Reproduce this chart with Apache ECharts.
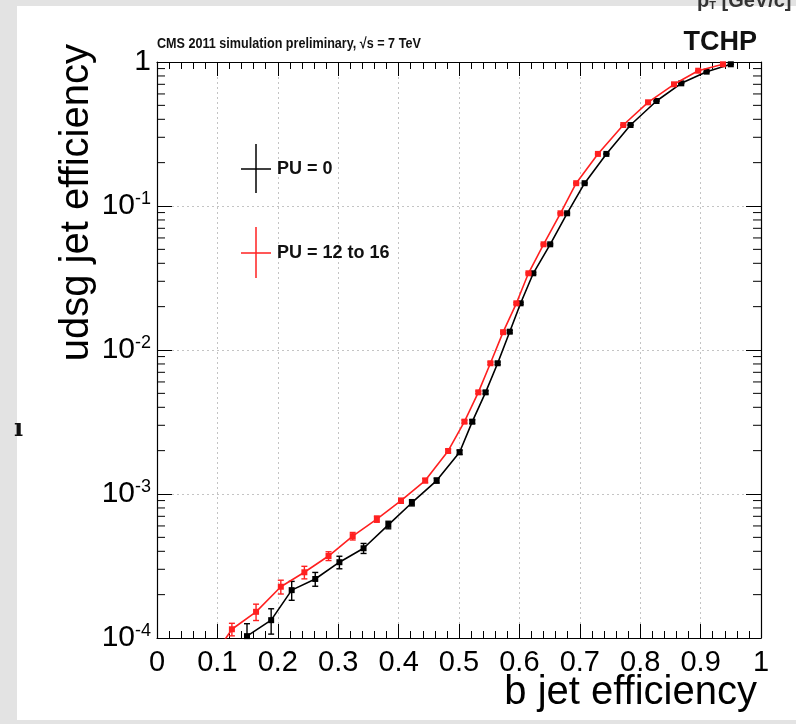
<!DOCTYPE html>
<html>
<head>
<meta charset="utf-8">
<script src="https://cdn.jsdelivr.net/npm/echarts@6/dist/echarts.min.js"></script>
<style>
html,body{margin:0;padding:0;background:#e3e3e3;}
#c{width:796px;height:724px;}
</style>
</head>
<body>
<div id="c"></div>
<script>
// ---- data ----
const xTickValues = [0, 0.1, 0.2, 0.3, 0.4, 0.5, 0.6, 0.7, 0.8, 0.9, 1];
const yDecades = [1e-4, 1e-3, 1e-2, 1e-1, 1];
const yMinorTicks = [2e-4,3e-4,4e-4,5e-4,6e-4,7e-4,8e-4,9e-4,
  2e-3,3e-3,4e-3,5e-3,6e-3,7e-3,8e-3,9e-3,
  2e-2,3e-2,4e-2,5e-2,6e-2,7e-2,8e-2,9e-2,
  0.2,0.3,0.4,0.5,0.6,0.7,0.8,0.9];

// PU = 0
const bEffPU0 = [0.120, 0.149, 0.189, 0.223, 0.262, 0.302, 0.342, 0.383, 0.422, 0.463, 0.501, 0.522, 0.544, 0.564, 0.584, 0.602, 0.623, 0.651, 0.679, 0.708, 0.744, 0.784, 0.827, 0.868, 0.910, 0.950];
const udsgPU0 = [7.0e-5, 1.03e-4, 1.33e-4, 2.15e-4, 2.57e-4, 3.36e-4, 4.2e-4, 6.1e-4, 8.7e-4, 1.24e-3, 1.95e-3, 3.18e-3, 5.08e-3, 8.09e-3, 1.34e-2, 2.11e-2, 3.41e-2, 5.42e-2, 8.9e-2, 0.144, 0.230, 0.365, 0.536, 0.711, 0.857, 0.964];
const errPU0  = [0.25, 0.22, 0.20, 0.15, 0.11, 0.10, 0.08, 0.06, 0.05, 0.04, 0.035, 0.03, 0.025, 0.02, 0.02, 0.015, 0.015, 0.012, 0.01, 0.01, 0.008, 0.006, 0.005, 0.004, 0.003, 0.002];

// PU = 12 to 16
const bEffPU12 = [0.085, 0.124, 0.164, 0.205, 0.244, 0.284, 0.324, 0.364, 0.404, 0.444, 0.482, 0.509, 0.532, 0.552, 0.573, 0.595, 0.615, 0.640, 0.668, 0.694, 0.730, 0.772, 0.813, 0.856, 0.896, 0.937];
const udsgPU12 = [6.6e-5, 1.15e-4, 1.52e-4, 2.27e-4, 2.86e-4, 3.71e-4, 5.1e-4, 6.7e-4, 8.98e-4, 1.24e-3, 1.99e-3, 3.18e-3, 5.08e-3, 8.09e-3, 1.33e-2, 2.11e-2, 3.41e-2, 5.42e-2, 8.9e-2, 0.144, 0.230, 0.365, 0.525, 0.70, 0.87, 0.964];
const errPU12  = [0.20, 0.10, 0.13, 0.11, 0.10, 0.07, 0.06, 0.05, 0.04, 0.035, 0.03, 0.025, 0.02, 0.02, 0.015, 0.015, 0.012, 0.01, 0.01, 0.008, 0.006, 0.005, 0.004, 0.003, 0.002, 0.002];

const seriesNames = ['PU = 0', 'PU = 12 to 16'];
const titleText = 'CMS 2011 simulation preliminary, \u221As = 7 TeV';
const algoText = 'TCHP';
const xTitle = 'b jet efficiency';
const yTitle = 'udsg jet efficiency';

// ---- chart ----
const FONT = '"Liberation Sans", Arial, Helvetica, sans-serif';
const BLACK = '#000000';
const RED = '#ff2020';

function pts(xs, ys) { return xs.map((x, i) => [x, ys[i]]); }
function errData(xs, ys, es) { return xs.map((x, i) => [x, ys[i], es[i]]); }

function errRender(color) {
  return function (params, api) {
    const x = api.value(0), y = api.value(1), e = api.value(2);
    const hi = api.coord([x, y * (1 + e)]);
    const lo = api.coord([x, y * (1 - e)]);
    const cw = 3;
    const st = { stroke: color, lineWidth: 1.4 };
    return {
      type: 'group',
      children: [
        { type: 'line', shape: { x1: hi[0], y1: hi[1], x2: lo[0], y2: lo[1] }, style: st },
        { type: 'line', shape: { x1: hi[0] - cw, y1: hi[1], x2: hi[0] + cw, y2: hi[1] }, style: st },
        { type: 'line', shape: { x1: lo[0] - cw, y1: lo[1], x2: lo[0] + cw, y2: lo[1] }, style: st }
      ]
    };
  };
}

function minorRender(params, api) {
  const v = api.value(0);
  const l = api.coord([0, v]);
  const r = api.coord([1, v]);
  const st = { stroke: '#000', lineWidth: 1 };
  return {
    type: 'group',
    children: [
      { type: 'line', shape: { x1: l[0], y1: l[1], x2: l[0] + 8, y2: l[1] }, style: st },
      { type: 'line', shape: { x1: r[0], y1: r[1], x2: r[0] - 8, y2: r[1] }, style: st }
    ]
  };
}

const chart = echarts.init(document.getElementById('c'), null, { renderer: 'canvas' });

const xAxisBase = {
  type: 'value', min: 0, max: 1, interval: 0.1,
  axisLine: { show: true, onZero: false, lineStyle: { color: '#000', width: 1.2 } },
  axisTick: { show: true, inside: true, length: 14, lineStyle: { color: '#000', width: 1 } },
  minorTick: { show: true, splitNumber: 5, length: 7, lineStyle: { color: '#000', width: 1 } }
};
const yAxisBase = {
  type: 'log', logBase: 10, min: 1e-4, max: 1, splitNumber: 4,
  axisLine: { show: true, onZero: false, lineStyle: { color: '#000', width: 1.2 } },
  axisTick: { show: true, inside: true, length: 15, lineStyle: { color: '#000', width: 1 } },
  minorTick: { show: false }
};

const option = {
  backgroundColor: 'transparent',
  animation: false,
  grid: { left: 157, right: 35, top: 62, bottom: 86, containLabel: false },
  xAxis: [
    Object.assign({}, xAxisBase, {
      position: 'bottom',
      splitLine: { show: true, lineStyle: { color: '#c4c4c4', type: [2, 3], width: 1 } },
      axisLabel: {
        show: true, margin: 10, color: '#000', fontSize: 29, fontFamily: FONT,
        showMinLabel: true, showMaxLabel: true,
        formatter: function (v) {
          const r = Math.round(v * 10) / 10;
          return (r === 0 || r === 1) ? String(r) : r.toFixed(1);
        }
      }
    }),
    Object.assign({}, xAxisBase, {
      position: 'top',
      splitLine: { show: false },
      axisLabel: { show: false }
    })
  ],
  yAxis: [
    Object.assign({}, yAxisBase, {
      position: 'left',
      splitLine: { show: true, lineStyle: { color: '#c4c4c4', type: [2, 3], width: 1 } },
      axisLabel: {
        show: true, margin: 6, color: '#000', fontFamily: FONT,
        showMinLabel: true, showMaxLabel: true,
        formatter: function (v) {
          const e = Math.round(Math.log10(v));
          if (e === 0) return '{n|1}';
          return '{n|10}{s|' + e + '}';
        },
        rich: {
          n: { fontSize: 30, lineHeight: 32, fontFamily: FONT, color: '#000' },
          s: { fontSize: 18, lineHeight: 19, verticalAlign: 'top', fontFamily: FONT, color: '#000' }
        }
      }
    }),
    Object.assign({}, yAxisBase, {
      position: 'right',
      splitLine: { show: false },
      axisLabel: { show: false }
    })
  ],
  series: [
    {
      name: 'minor', type: 'custom', xAxisIndex: 0, yAxisIndex: 0,
      renderItem: minorRender, data: yMinorTicks.map(v => [v]),
      encode: { y: 0 }, silent: true, z: 1
    },
    {
      name: seriesNames[0] + ' err', type: 'custom', xAxisIndex: 0, yAxisIndex: 0,
      renderItem: errRender(BLACK), data: errData(bEffPU0, udsgPU0, errPU0),
      encode: { x: 0, y: 1 }, clip: true, z: 3
    },
    {
      name: seriesNames[0], type: 'line', xAxisIndex: 0, yAxisIndex: 0,
      data: pts(bEffPU0, udsgPU0),
      symbol: 'rect', symbolSize: 6, showSymbol: true,
      lineStyle: { color: BLACK, width: 1.6 }, itemStyle: { color: BLACK },
      clip: true, z: 4
    },
    {
      name: seriesNames[1] + ' err', type: 'custom', xAxisIndex: 0, yAxisIndex: 0,
      renderItem: errRender(RED), data: errData(bEffPU12, udsgPU12, errPU12),
      encode: { x: 0, y: 1 }, clip: true, z: 5
    },
    {
      name: seriesNames[1], type: 'line', xAxisIndex: 0, yAxisIndex: 0,
      data: pts(bEffPU12, udsgPU12),
      symbol: 'rect', symbolSize: 6, showSymbol: true,
      lineStyle: { color: RED, width: 1.6 }, itemStyle: { color: RED },
      clip: true, z: 6
    }
  ],
  graphic: [
    { type: 'rect', z: -10, silent: true, shape: { x: 17, y: 6, width: 779, height: 714 }, style: { fill: '#ffffff' } },
    { type: 'text', z: 10, x: 697, y: -9, style: { rich: { a: { fontSize: 20, fontWeight: 'bold', fontFamily: FONT, fill: '#333' }, b: { fontSize: 11, fontWeight: 'bold', fontFamily: FONT, fill: '#333', verticalAlign: 'bottom', lineHeight: 12 } }, text: '{a|p}{b|T}{a| [GeV/c]}' } },
    { type: 'text', z: 10, x: 14, y: 430, style: { text: '\u0131', font: 'bold 24px "DejaVu Serif", serif', fill: '#111', verticalAlign: 'middle' } },
    { type: 'text', z: 10, x: 157, y: 44, scaleX: 0.84, style: { text: titleText, font: 'bold 15px ' + FONT, fill: '#111', verticalAlign: 'middle', align: 'left' } },
    { type: 'text', z: 10, x: 757, y: 43, style: { text: algoText, font: 'bold 27px ' + FONT, fill: '#111', verticalAlign: 'middle', align: 'right' } },
    { type: 'text', z: 10, x: 757, y: 693, style: { text: xTitle, font: '40px ' + FONT, fill: '#000', verticalAlign: 'middle', align: 'right' } },
    { type: 'text', z: 10, x: 77, y: 44, rotation: Math.PI / 2, style: { text: yTitle, font: '40px ' + FONT, fill: '#000', verticalAlign: 'middle', align: 'right' } },
    // legend
    { type: 'line', z: 10, shape: { x1: 241, y1: 169, x2: 271, y2: 169 }, style: { stroke: BLACK, lineWidth: 1.5 } },
    { type: 'line', z: 10, shape: { x1: 256, y1: 144, x2: 256, y2: 193 }, style: { stroke: BLACK, lineWidth: 1.5 } },
    { type: 'text', z: 10, x: 277, y: 169, style: { text: seriesNames[0], font: 'bold 18px ' + FONT, fill: '#111', verticalAlign: 'middle' } },
    { type: 'line', z: 10, shape: { x1: 241, y1: 253, x2: 271, y2: 253 }, style: { stroke: RED, lineWidth: 1.5 } },
    { type: 'line', z: 10, shape: { x1: 256, y1: 227, x2: 256, y2: 278 }, style: { stroke: RED, lineWidth: 1.5 } },
    { type: 'text', z: 10, x: 277, y: 253, style: { text: seriesNames[1], font: 'bold 18px ' + FONT, fill: '#111', verticalAlign: 'middle' } }
  ]
};
chart.setOption(option);
</script>
</body>
</html>
